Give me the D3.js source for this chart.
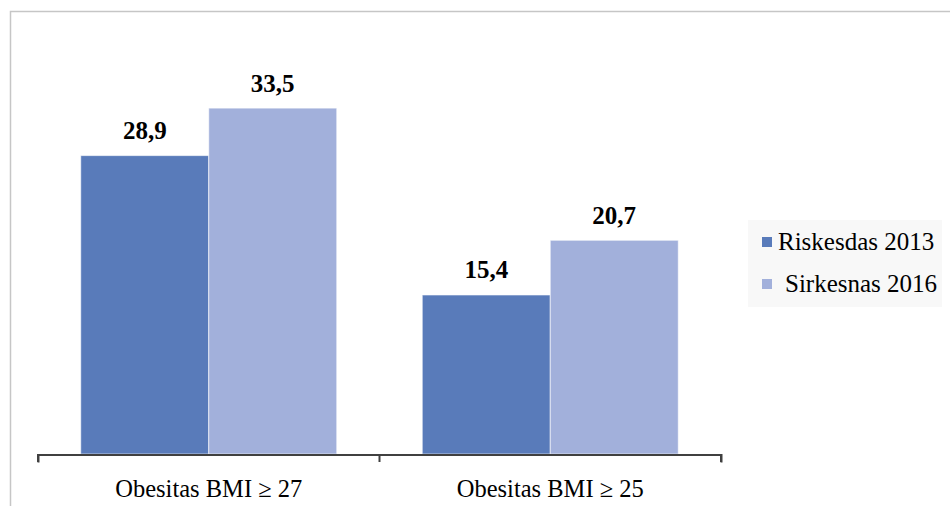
<!DOCTYPE html>
<html>
<head>
<meta charset="utf-8">
<script src="https://cdn.jsdelivr.net/npm/d3@7"></script>
<style>
  html, body { margin: 0; padding: 0; background: #ffffff; }
  svg { display: block; }
  svg text { font-family: "Liberation Serif", "Times New Roman", Times, serif; }
</style>
</head>
<body>
<svg id="chart" width="950" height="506"></svg>
<script>
// Obesity prevalence by survey (%)
const categories = ["Obesitas BMI \u2265 27", "Obesitas BMI \u2265 25"];
const seriesNames = ["Riskesdas 2013", "Sirkesnas 2016"];
const riskesdas2013 = [28.9, 15.4];
const sirkesnas2016 = [33.5, 20.7];
const seriesColors = ["#597bba", "#a2b0db"];

const seriesValues = [riskesdas2013, sirkesnas2016];
const rows = categories.map((c, i) => ({
  category: c,
  values: seriesNames.map((s, j) => ({ series: s, idx: j, value: seriesValues[j][i] }))
}));

const svg = d3.select("#chart");
const W = 950, H = 506;
const plot = { left: 38, right: 721, top: 41, bottom: 454 };

// outer frame
svg.append("rect")
  .attr("x", 10.5).attr("y", 11.5)
  .attr("width", W + 20).attr("height", H + 20)
  .attr("fill", "none")
  .attr("stroke", "#c6c6c6")
  .attr("stroke-width", 1.5);

const x0 = d3.scaleBand()
  .domain(categories)
  .range([plot.left, plot.right])
  .paddingInner(0)
  .paddingOuter(0);

const x1 = d3.scaleBand()
  .domain(seriesNames)
  .range([0, x0.bandwidth()])
  .paddingInner(0)
  .paddingOuter(0.334);

const y = d3.scaleLinear()
  .domain([0, 40])
  .range([plot.bottom, plot.top]);

const groups = svg.append("g").selectAll("g")
  .data(rows)
  .join("g")
  .attr("transform", d => `translate(${x0(d.category)},0)`);

groups.selectAll("rect")
  .data(d => d.values)
  .join("rect")
  .attr("x", d => x1(d.series))
  .attr("y", d => y(d.value))
  .attr("width", x1.bandwidth())
  .attr("height", d => y(0) - y(d.value))
  .attr("fill", d => seriesColors[d.idx])
  .attr("stroke", "#ffffff")
  .attr("stroke-opacity", 0.6)
  .attr("stroke-width", 1);

// value labels above bars
groups.selectAll("text")
  .data(d => d.values)
  .join("text")
  .attr("x", d => x1(d.series) + x1.bandwidth() / 2)
  .attr("y", d => y(d.value) - 16.5)
  .attr("text-anchor", "middle")
  .attr("font-weight", "bold")
  .attr("font-size", 25)
  .attr("fill", "#000")
  .text(d => d.value.toFixed(1).replace(".", ","));

// category axis
const axis = d3.axisBottom(x0).tickSize(8).tickSizeOuter(8).tickFormat("");
const axisG = svg.append("g")
  .attr("transform", `translate(0,${plot.bottom + 0.5})`)
  .call(axis);
axisG.selectAll(".tick").remove();
axisG.select(".domain").attr("stroke", "#404040").attr("stroke-width", 2);

// boundary ticks between categories
const tickXs = [plot.left, x0(categories[1]), plot.right];
svg.append("g").selectAll("line")
  .data(tickXs)
  .join("line")
  .attr("x1", d => d).attr("x2", d => d)
  .attr("y1", plot.bottom).attr("y2", plot.bottom + 8)
  .attr("stroke", "#404040")
  .attr("stroke-width", 2);

svg.append("g").selectAll("text")
  .data(categories)
  .join("text")
  .attr("x", d => x0(d) + x0.bandwidth() / 2)
  .attr("y", 497)
  .attr("text-anchor", "middle")
  .attr("font-size", 24.5)
  .attr("fill", "#000")
  .text(d => d);

// legend
const legend = svg.append("g");
legend.append("rect")
  .attr("x", 748).attr("y", 220)
  .attr("width", 194).attr("height", 87)
  .attr("fill", "#f8f8f8");

const items = legend.selectAll("g")
  .data(seriesNames)
  .join("g")
  .attr("transform", (d, i) => `translate(762,${237 + i * 42})`);

items.append("rect")
  .attr("width", 10).attr("height", 10)
  .attr("fill", (d, i) => seriesColors[i]);

items.append("text")
  .attr("x", (d, i) => i === 0 ? 16 : 23)
  .attr("y", 13)
  .attr("font-size", 25)
  .attr("fill", "#000")
  .text(d => d);
</script>
</body>
</html>
